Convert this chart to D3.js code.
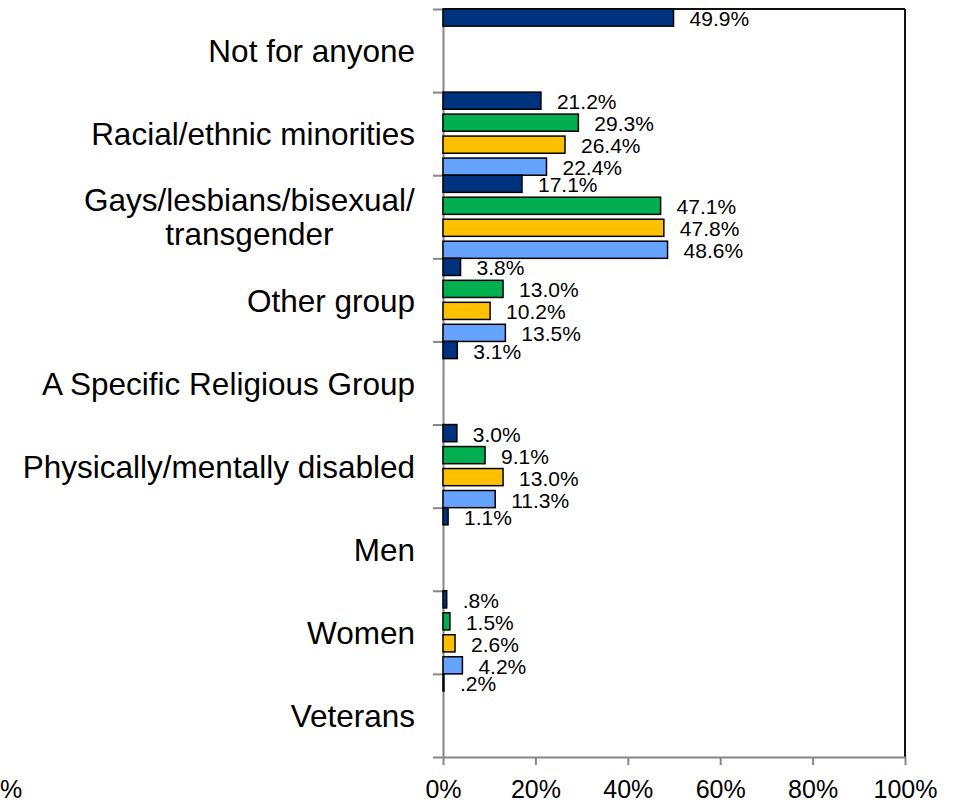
<!DOCTYPE html>
<html>
<head>
<meta charset="utf-8">
<script src="https://cdn.jsdelivr.net/npm/d3@7"></script>
<style>
  body { margin: 0; background: #fff; }
  text { font-family: "Liberation Sans", Arial, sans-serif; fill: #000; }
</style>
</head>
<body>
<script>
    var categories = ['Not for anyone',
      'Racial/ethnic minorities',
      'Gays/lesbians/bisexual/\ntransgender',
      'Other group',
      'A Specific Religious Group',
      'Physically/mentally disabled',
      'Men',
      'Women',
      'Veterans'];

    // four survey series, null = no bar
    var series1 = [49.9, 21.2, 17.1, 3.8, 3.1, 3.0, 1.1, 0.8, 0.2];
    var series2 = [null, 29.3, 47.1, 13.0, null, 9.1, null, 1.5, null];
    var series3 = [null, 26.4, 47.8, 10.2, null, 13.0, null, 2.6, null];
    var series4 = [null, 22.4, 48.6, 13.5, null, 11.3, null, 4.2, null];

    var xTicks = [0, 20, 40, 60, 80, 100];

    var seriesList = [series1, series2, series3, series4];
    var colors = ['#00337f', '#00b050', '#ffc000', '#66a3ff'];

    // sizes
    var width = 958, height = 804;
    var margin = {top: 9, right: 53, bottom: 47, left: 443};

    var svg = d3.select("body")
      .append("svg")
      .attr("width", width)
      .attr("height", height);

    // scales
    var x = d3.scaleLinear()
      .domain([0, 100])
      .range([margin.left, width - margin.right]);

    var y = d3.scaleBand()
      .domain(categories)
      .range([margin.top, height - margin.bottom])
      .padding(0);

    var ySub = d3.scaleBand()
      .domain(d3.range(seriesList.length))
      .range([0, y.bandwidth()])
      .paddingInner(0.22)
      .paddingOuter(0);

    // band edges for the left ticks
    var yEdge = d3.scaleLinear()
      .domain([0, categories.length])
      .range([margin.top, height - margin.bottom]);

    // frame top + right
    svg.append("line")
      .attr("x1", x(0)).attr("x2", x(100))
      .attr("y1", margin.top).attr("y2", margin.top)
      .attr("stroke", "#111").attr("stroke-width", 2);
    svg.append("line")
      .attr("x1", x(100)).attr("x2", x(100))
      .attr("y1", margin.top).attr("y2", height - margin.bottom)
      .attr("stroke", "#111").attr("stroke-width", 2);

    // bottom axis
    var xAxis = svg.append("g")
      .attr("transform", "translate(0," + (height - margin.bottom) + ")")
      .call(d3.axisBottom(x)
        .tickValues(xTicks)
        .tickFormat(d => d + "%")
        .tickSize(8)
        .tickSizeOuter(0));
    xAxis.select(".domain").attr("stroke", "#868686").attr("stroke-width", 2);
    xAxis.selectAll(".tick line").attr("stroke", "#868686").attr("stroke-width", 2);
    xAxis.selectAll(".tick text")
      .attr("y", 23)
      .attr("dy", "0.71em")
      .style("font-size", "25px")
      .style("font-family", "'Liberation Sans', Arial, sans-serif")
      .attr("fill", "#000");

    // left axis (ticks between categories)
    var yAxis = svg.append("g")
      .attr("transform", "translate(" + margin.left + ",0)")
      .call(d3.axisLeft(yEdge)
        .tickValues(d3.range(0, categories.length + 1))
        .tickFormat("")
        .tickSize(10)
        .tickSizeOuter(0));
    yAxis.select(".domain").attr("stroke", "#868686").attr("stroke-width", 2);
    yAxis.selectAll(".tick line").attr("stroke", "#868686").attr("stroke-width", 2);

    // category labels
    var catText = svg.append("g")
      .selectAll("text")
      .data(categories)
      .enter().append("text")
      .attr("text-anchor", "middle")
      .style("font-size", "31.5px");

    catText.each(function(d) {
      var lines = d.split("\n");
      var t = d3.select(this);
      var cy = y(d) + y.bandwidth() / 2;
      var lh = 34;
      lines.forEach(function(l, i) {
        t.append("tspan")
          .attr("x", 0)
          .attr("y", cy + (i - (lines.length - 1) / 2) * lh)
          .attr("dy", "0.37em")
          .text(l);
      });
      // right-align the block, lines centred in it
      var w = this.getBBox().width;
      t.selectAll("tspan").attr("x", margin.left - 28 - w / 2);
    });

    // bars
    var rows = [];
    categories.forEach(function(c, ci) {
      seriesList.forEach(function(s, si) {
        if (s[ci] != null) rows.push({cat: c, s: si, v: s[ci]});
      });
    });

    svg.append("g")
      .selectAll("rect")
      .data(rows)
      .enter().append("rect")
      .attr("x", x(0))
      .attr("y", d => y(d.cat) + ySub(d.s))
      .attr("width", d => x(d.v) - x(0))
      .attr("height", ySub.bandwidth())
      .attr("fill", d => colors[d.s])
      .attr("stroke", "#000")
      .attr("stroke-width", 1.5);

    // value labels
    var fmt = d3.format(".1f");
    svg.append("g")
      .selectAll("text")
      .data(rows)
      .enter().append("text")
      .attr("x", d => x(d.v) + 16)
      .attr("y", d => y(d.cat) + ySub(d.s) + ySub.bandwidth() / 2 + 1)
      .attr("dy", "0.36em")
      .style("font-size", "21px")
      .text(d => fmt(d.v).replace(/^0/, "") + "%");

    // clipped tick label at far left
    svg.append("text")
      .attr("x", 0)
      .attr("y", height - margin.bottom + 23)
      .attr("dy", "0.71em")
      .style("font-size", "25px")
      .text("%");
</script>
</body>
</html>
